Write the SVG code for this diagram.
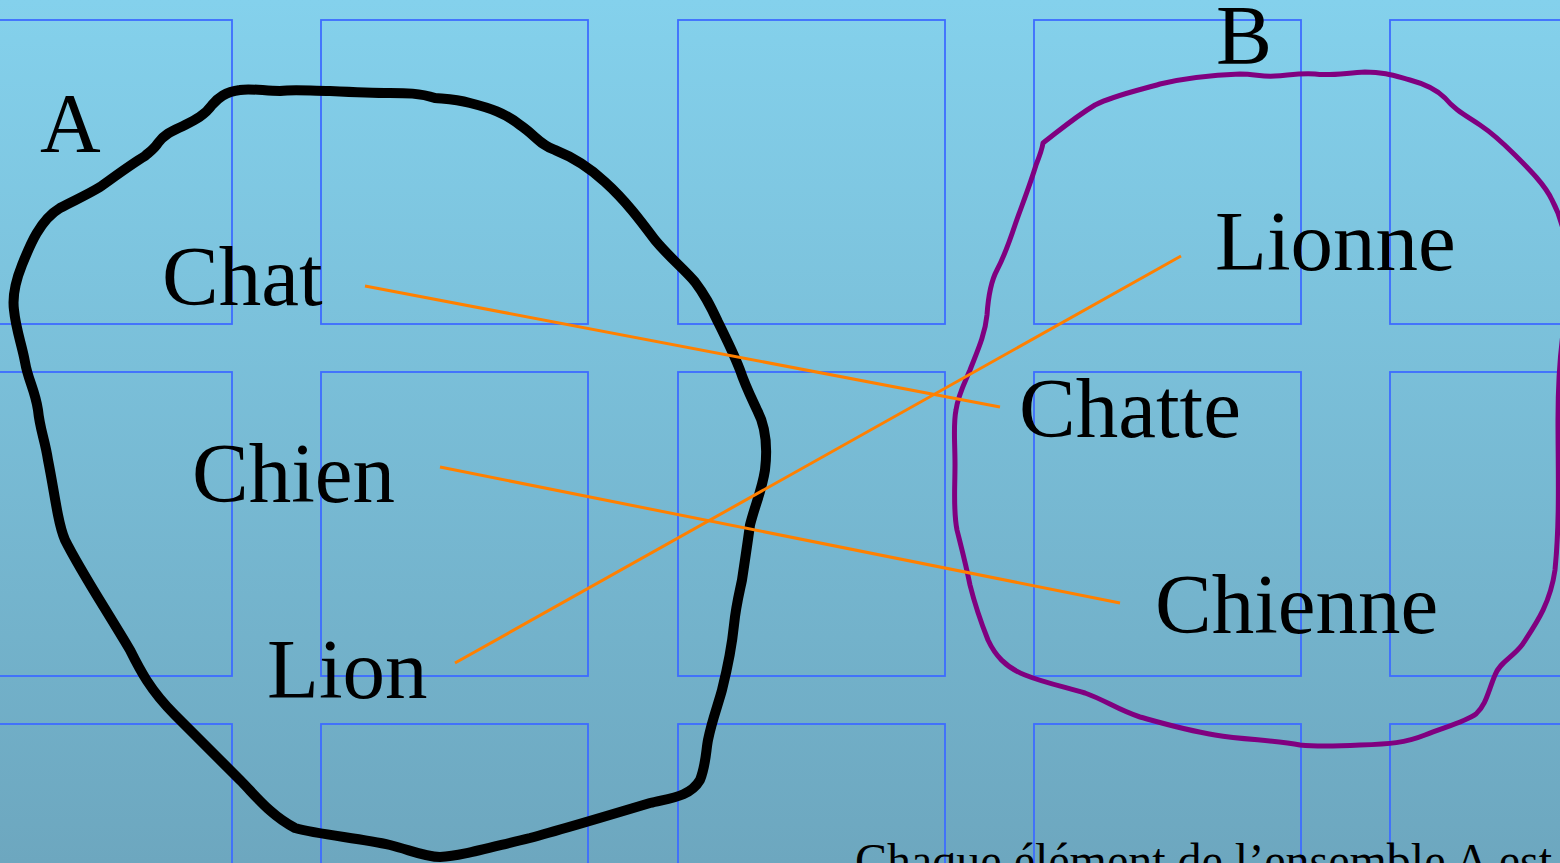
<svg xmlns="http://www.w3.org/2000/svg" width="1560" height="863" viewBox="0 0 1560 863">
<defs>
<linearGradient id="bg" x1="0" y1="0" x2="0" y2="1">
<stop offset="0" stop-color="#84d1ec"/>
<stop offset="1" stop-color="#6da7bf"/>
</linearGradient>
<style>
.grid rect{fill:none;stroke:#3d6cff;stroke-width:1.8}
.t{font-family:"Liberation Serif","Times New Roman",serif;font-size:85px;fill:#000}
.lbl{font-family:"Liberation Serif","Times New Roman",serif;font-size:84px;fill:#000}
.link{stroke:#ff8000;stroke-width:3;fill:none}
</style>
</defs>
<rect width="1560" height="863" fill="url(#bg)"/>
<g class="grid">
<rect x="-36" y="20" width="268" height="304"/><rect x="321" y="20" width="267" height="304"/><rect x="678" y="20" width="267" height="304"/><rect x="1034" y="20" width="267" height="304"/><rect x="1390" y="20" width="267" height="304"/>
<rect x="-36" y="372" width="268" height="304"/><rect x="321" y="372" width="267" height="304"/><rect x="678" y="372" width="267" height="304"/><rect x="1034" y="372" width="267" height="304"/><rect x="1390" y="372" width="267" height="304"/>
<rect x="-36" y="724" width="268" height="304"/><rect x="321" y="724" width="267" height="304"/><rect x="678" y="724" width="267" height="304"/><rect x="1034" y="724" width="267" height="304"/><rect x="1390" y="724" width="267" height="304"/>
</g>
<g id="setA">
<path d="M65,540 C80,570 100,600 130,650 C140,670 150,690 175,715 C195,735 215,755 240,780 C255,795 270,815 295,828 C320,835 360,838 390,845 C410,850 425,857 440,857 C460,856 480,850 530,838 C560,830 600,818 650,803 C670,798 690,797 700,780 C706,765 706,750 708,740 C712,720 718,705 722,690 C727,670 732,645 734,625 C736,605 740,590 742,580 C745,560 748,540 750,525 C755,505 762,490 765,470 C768,445 765,425 757,410 C750,395 745,385 740,370 C733,352 727,340 718,322 C710,305 705,295 695,282 C685,270 670,258 655,240 C640,220 625,200 605,182 C590,168 575,158 555,150 C540,145 535,135 520,125 C505,113 490,108 470,103 C455,99 445,99 435,98 C420,93 405,93 390,93 C370,93 350,92 330,91 C310,91 295,89 280,91 C265,91 250,88 240,90 C225,92 218,98 212,105 C205,115 195,120 185,125 C175,130 165,133 158,143 C155,148 152,150 145,156 C130,165 110,180 100,187 C85,196 75,200 60,208 C40,220 30,245 22,265 C16,280 12,295 14,310 C16,330 22,345 25,362 C28,380 35,390 38,410 C40,430 45,440 48,460 C52,480 55,500 58,515 C60,525 62,533 65,540 Z" fill="none" stroke="#000" stroke-width="10" stroke-linejoin="round"/>
<text class="lbl" x="40" y="152">A</text>
</g>
<g id="setB">
<path d="M1043,143 C1060,130 1075,117 1095,105 C1115,95 1140,90 1160,84 C1185,78 1215,75 1240,74 C1255,74 1262,77 1275,76 C1290,75 1300,73 1315,74 C1330,76 1345,73 1365,72 C1385,72 1395,76 1410,80 C1425,84 1437,90 1445,98 C1455,110 1465,115 1480,125 C1495,135 1505,145 1515,155 C1530,170 1545,185 1552,200 C1560,215 1563,225 1565,240 L1565,320 C1560,350 1558,380 1558,420 C1558,470 1560,520 1555,570 C1550,605 1535,625 1522,645 C1512,658 1500,662 1495,675 C1488,692 1486,705 1476,714 C1465,722 1445,727 1425,735 C1405,743 1390,744 1360,745 C1340,746 1320,747 1300,745 C1275,740 1245,740 1215,735 C1185,730 1165,724 1140,717 C1118,710 1105,700 1085,693 C1065,687 1045,683 1025,675 C1005,667 995,655 988,640 C980,620 975,605 970,585 C966,565 962,550 957,530 C953,510 955,490 955,465 C955,440 953,425 956,410 C958,395 965,382 970,370 C977,352 985,335 987,315 C988,300 990,283 997,270 C1005,255 1010,240 1015,225 C1022,205 1030,185 1036,165 C1040,155 1042,150 1043,143 Z" fill="none" stroke="#800080" stroke-width="5" stroke-linejoin="round"/>
<text class="lbl" x="1216" y="64">B</text>
</g>
<g id="connectors">
<line class="link" x1="365" y1="286" x2="1000" y2="407"/>
<line class="link" x1="455" y1="663" x2="1181" y2="256"/>
<line class="link" x1="440" y1="467" x2="1120" y2="603"/>
</g>
<g id="chat"><text class="t" x="162" y="305">Chat</text></g>
<g id="chien"><text class="t" x="192" y="502">Chien</text></g>
<g id="lion"><text class="t" x="267" y="698">Lion</text></g>
<g id="lionne"><text class="t" x="1215" y="270">Lionne</text></g>
<g id="chatte"><text class="t" x="1019" y="437">Chatte</text></g>
<g id="chienne"><text class="t" x="1155" y="633">Chienne</text></g>
<text x="855" y="877" style="font-family:'Liberation Serif','Times New Roman',serif;font-size:48px;fill:#000">Chaque élément de l’ensemble A est</text>
</svg>
